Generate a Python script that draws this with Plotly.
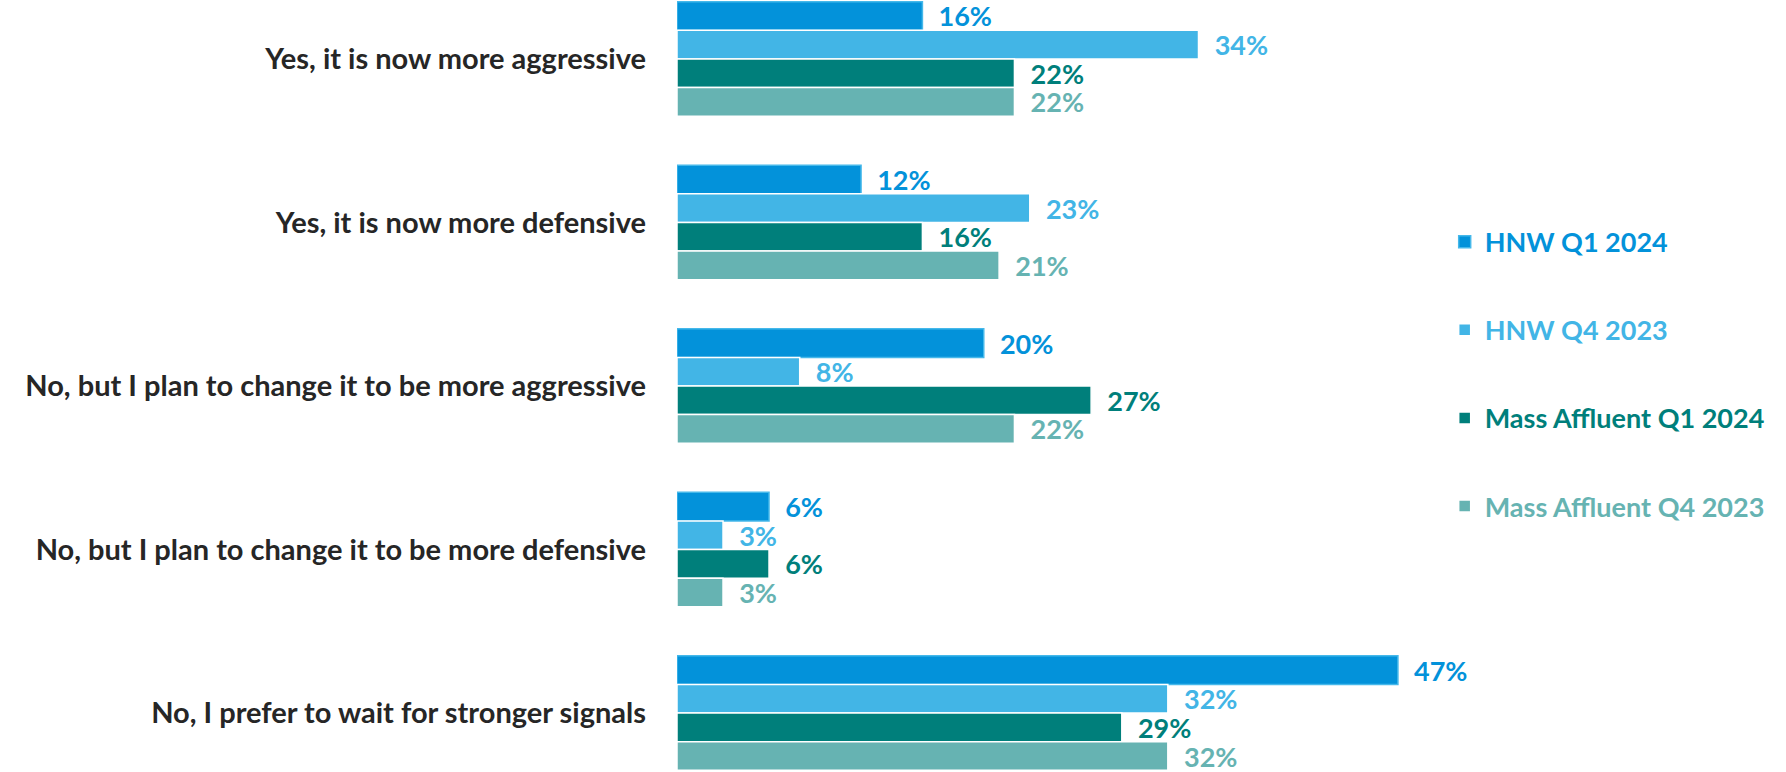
import plotly.graph_objects as go

categories = [
    "Yes, it is now more aggressive",
    "Yes, it is now more defensive",
    "No, but I plan to change it to be more aggressive",
    "No, but I plan to change it to be more defensive",
    "No, I prefer to wait for stronger signals",
]
series_names = ["HNW Q1 2024", "HNW Q4 2023", "Mass Affluent Q1 2024", "Mass Affluent Q4 2023"]
hnw_q1_2024 = [16, 12, 20, 6, 47]
hnw_q4_2023 = [34, 23, 8, 3, 32]
ma_q1_2024 = [22, 16, 27, 6, 29]
ma_q4_2023 = [22, 21, 22, 3, 32]

colors = ["#0392DA", "#42B5E6", "#007F7B", "#66B3B2"]
line_colors = ["#45B8EA", "#FFFFFF", "#FFFFFF", "#FFFFFF"]
all_values = [hnw_q1_2024, hnw_q4_2023, ma_q1_2024, ma_q4_2023]

FONT = "Lato"

fig = go.Figure()
for i, (name, vals) in enumerate(zip(series_names, all_values)):
    fig.add_trace(go.Bar(
        y=categories,
        x=vals,
        orientation="h",
        name=f"<span style='color:{colors[i]}'>{name}</span>",
        legendgroup=f"g{i}",
        marker=dict(color=colors[i], line=dict(color=line_colors[i], width=1.5)),
        text=[f"  {v}%" for v in vals],
        textposition="outside",
        textfont=dict(family=FONT, size=27, color=colors[i], weight="bold"),
        constraintext="none",
        cliponaxis=False,
        hoverinfo="skip",
    ))

fig.update_layout(
    width=1786,
    height=772,
    margin=dict(l=677, r=339, t=0, b=0),
    paper_bgcolor="white",
    plot_bgcolor="white",
    barmode="group",
    bargap=0.30,
    bargroupgap=0,
    font=dict(family=FONT),
    showlegend=True,
    legend=dict(
        x=0.997, xanchor="left",
        y=0.718, yanchor="top",
        traceorder="grouped",
        tracegroupgap=50,
        font=dict(family=FONT, size=27, weight="bold"),
        bgcolor="rgba(0,0,0,0)",
    ),
    xaxis=dict(range=[0, 50.2], visible=False, showgrid=False, zeroline=False),
    yaxis=dict(
        categoryorder="array",
        categoryarray=categories,
        range=[4.36, -0.36],
        showgrid=False, zeroline=False, showline=False,
        ticks="",
        ticklabelstandoff=30,
        tickfont=dict(family=FONT, size=29, color="#262626", weight="bold"),
    ),
)

fig.write_html(
    "out.html",
    config={"displayModeBar": False},
    post_script="document.body.style.margin='0';",
)
